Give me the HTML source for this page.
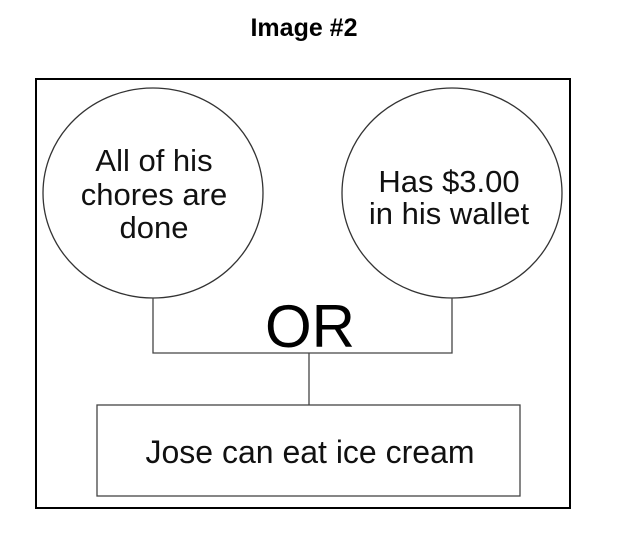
<!DOCTYPE html>
<html><head><style>
body{margin:0;background:#fff;width:626px;height:536px;overflow:hidden}
</style></head><body>
<svg width="626" height="536" xmlns="http://www.w3.org/2000/svg" font-family="Liberation Sans, sans-serif">
<text x="304" y="36" text-anchor="middle" font-size="25" font-weight="bold" fill="#000">Image #2</text>
<rect x="36" y="79" width="534" height="429" fill="none" stroke="#000" stroke-width="2"/>
<ellipse cx="153" cy="193" rx="110" ry="105" fill="none" stroke="#333" stroke-width="1.3"/>
<ellipse cx="452" cy="193" rx="110" ry="105" fill="none" stroke="#333" stroke-width="1.3"/>
<g font-size="31" text-anchor="middle" fill="#111">
<text x="154" y="171">All of his</text>
<text x="154" y="205">chores are</text>
<text x="154" y="238">done</text>
<text x="449" y="192">Has $3.00</text>
<text x="449" y="224">in his wallet</text>
</g>
<path d="M153 298V353H452V298M309 353V405" fill="none" stroke="#444" stroke-width="1.3"/>
<text x="310" y="347" text-anchor="middle" font-size="60" fill="#000">OR</text>
<rect x="97" y="405" width="423" height="91" fill="none" stroke="#444" stroke-width="1.3"/>
<text x="310" y="463" text-anchor="middle" font-size="32" fill="#111">Jose can eat ice cream</text>
</svg>
</body></html>
